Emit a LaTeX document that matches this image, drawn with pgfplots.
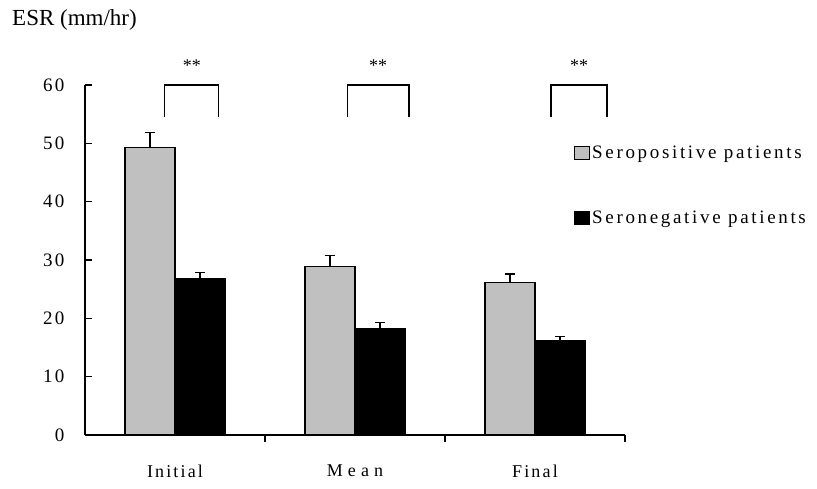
\documentclass[border=0pt]{standalone}
\usepackage{pgfplots}
\pgfplotsset{compat=1.18}
\usepackage{fontspec}
\setmainfont{Liberation Serif}
\newfontfamily\spaced[LetterSpace=12]{Liberation Serif}
\newfontfamily\legspaced[LetterSpace=14]{Liberation Serif}
\newfontfamily\widespaced[LetterSpace=28]{Liberation Serif}
\definecolor{silverbar}{RGB}{192,192,192}
\begin{document}
\begin{tikzpicture}
\path[use as bounding box] (-85pt,-54pt) rectangle (732pt,435pt);
\begin{axis}[
  at={(0,0)}, anchor=south west,
  scale only axis, width=540pt, height=350pt,
  xmin=0, xmax=3, ymin=0, ymax=60,
  axis x line=bottom, axis y line=left,
  axis line style={-, line width=1.1pt},
  tick align=inside, major tick length=7pt,
  tick style={line width=1.1pt, black},
  xtick={1,2,3}, xticklabels={},
  extra x ticks={0.5,1.5,2.5},
  extra x tick labels={Initial,{\widespaced Mean},Final},
  extra x tick style={major tick length=0pt,
    tick label style={font=\fontsize{18}{18}\spaced, yshift=-26pt}},
  ytick={0,10,...,60},
  yticklabel style={font=\fontsize{19}{19}\spaced, xshift=-17pt},
  /pgf/number format/assume math mode=true,
  ybar, bar width=50pt,
  clip=false,
  legend style={at={(0.906,0.832)}, anchor=north west, draw=none, fill=none,
    font=\fontsize{19}{19}\legspaced, row sep=47pt, inner sep=0pt,
    nodes={inner sep=2pt}},
  legend cell align=left,
  legend image code/.code={\draw[#1, line width=0.8pt] (0pt,-6.5pt) rectangle (15pt,6.5pt);},
]
\addplot[fill=silverbar, draw=black, line width=1.2pt, bar shift=-25pt,
  error bars/.cd, y dir=plus, y explicit,
  error bar style={line width=1.1pt, black},
  error mark options={rotate=90, mark size=5pt, line width=1.1pt, black}]
  coordinates {(0.5,49.3) +- (0,2.5) (1.5,28.9) +- (0,1.8) (2.5,26.2) +- (0,1.4)};
\addlegendentry{Seropositive patients}
\addplot[fill=black, draw=black, line width=1.2pt, bar shift=25pt,
  error bars/.cd, y dir=plus, y explicit,
  error bar style={line width=1.1pt, black},
  error mark options={rotate=90, mark size=5pt, line width=1.1pt, black}]
  coordinates {(0.5,26.8) +- (0,1.0) (1.5,18.3) +- (0,1.0) (2.5,16.2) +- (0,0.7)};
\addlegendentry{Seronegative patients}
\draw[line width=1.1pt] (axis cs:0.444,54.5) -- (axis cs:0.444,60) -- (axis cs:0.744,60) -- (axis cs:0.744,54.5);
\draw[line width=1.1pt] (axis cs:1.456,54.5) -- (axis cs:1.456,60) -- (axis cs:1.8,60) -- (axis cs:1.8,54.5);
\draw[line width=1.1pt] (axis cs:2.589,54.5) -- (axis cs:2.589,60) -- (axis cs:2.9,60) -- (axis cs:2.9,54.5);
\node[font=\fontsize{18}{18}\selectfont] at (axis cs:0.594,63.4) {**};
\node[font=\fontsize{18}{18}\selectfont] at (axis cs:1.628,63.4) {**};
\node[font=\fontsize{18}{18}\selectfont] at (axis cs:2.745,63.4) {**};
\end{axis}
\node[anchor=west, font=\fontsize{23}{23}\selectfont, inner sep=0pt] at (-73pt,415pt) {ESR (mm/hr)};
\end{tikzpicture}
\end{document}
